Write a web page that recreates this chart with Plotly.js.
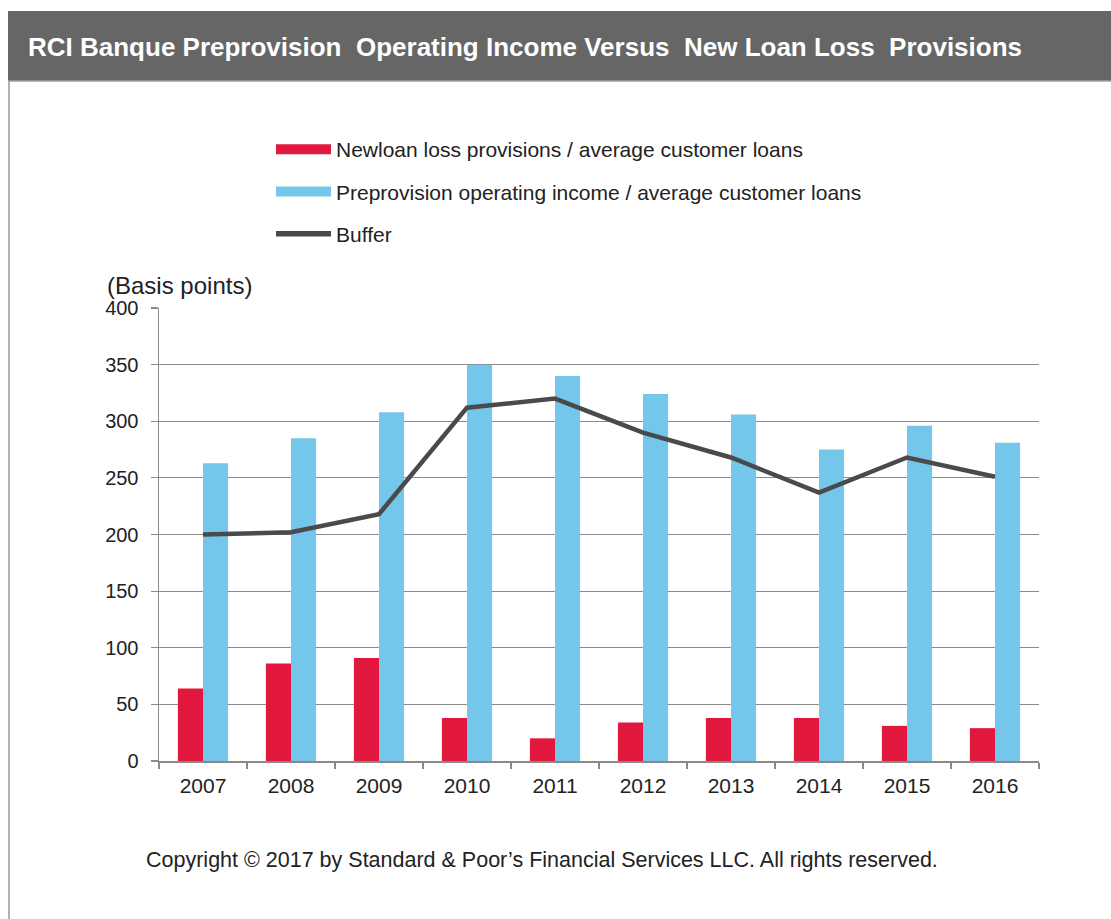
<!DOCTYPE html>
<html>
<head>
<meta charset="utf-8">
<script src="https://cdn.plot.ly/plotly-3.0.1.min.js"></script>
<style>
html,body{margin:0;padding:0;background:#fff;}
#chart{width:1111px;height:919px;}
</style>
</head>
<body>
<div id="chart"></div>
<script>
const years = ['2007','2008','2009','2010','2011','2012','2013','2014','2015','2016'];
const newLoanLoss = [64, 86, 91, 38, 20, 34, 38, 38, 31, 29];
const preprovision = [263, 285, 308, 350, 340, 324, 306, 275, 296, 281];
const buffer = [200, 202, 218, 312, 320, 290, 268, 237, 268, 251];

const seriesNames = [
  'Newloan loss provisions / average customer loans',
  'Preprovision operating income / average customer loans',
  'Buffer'
];
const RED = '#E2173D', BLUE = '#74C7EA', DARK = '#4A4A4A';

const traces = [
  {type:'bar', x:years, y:newLoanLoss, marker:{color:RED}, showlegend:false, name:seriesNames[0], hoverinfo:'y'},
  {type:'bar', x:years, y:preprovision, marker:{color:BLUE}, showlegend:false, name:seriesNames[1], hoverinfo:'y'},
  {type:'scatter', mode:'lines', x:years, y:buffer, line:{color:DARK, width:4.5}, showlegend:false, name:seriesNames[2]},
  // legend entries
  {type:'scatter', mode:'lines', x:[null], y:[null], line:{color:RED, width:10}, name:seriesNames[0], legendgroup:'a', showlegend:true},
  {type:'scatter', mode:'lines', x:[null], y:[null], line:{color:BLUE, width:10}, name:seriesNames[1], legendgroup:'b', showlegend:true},
  {type:'scatter', mode:'lines', x:[null], y:[null], line:{color:DARK, width:5.5}, name:seriesNames[2], legendgroup:'c', showlegend:true}
];

const L = 159, R = 1039, T = 308, B = 761;
const W = R - L, H = B - T;
const px = v => (v - L) / W;
const py = v => (B - v) / H;

const layout = {
  width:1111, height:919,
  margin:{l:L, r:1111-R, t:T, b:919-B, pad:0},
  paper_bgcolor:'#ffffff', plot_bgcolor:'#ffffff',
  font:{family:'Liberation Sans, Arial, sans-serif', color:'#222', size:19},
  title:{
    text:'RCI Banque Preprovision  Operating Income Versus  New Loan Loss  Provisions',
    font:{family:'Liberation Sans, Arial, sans-serif', size:26, color:'#ffffff', weight:'bold'},
    x:28/1111, xanchor:'left', xref:'container',
    y:1-47/919, yanchor:'middle', yref:'container'
  },
  barmode:'group', bargap:0.43, bargroupgap:0,
  xaxis:{
    type:'category', showgrid:false, showline:true, linecolor:'#8a8a8a', linewidth:1.5,
    ticks:'outside', tickson:'boundaries', ticklen:6, tickcolor:'#8a8a8a', tickwidth:1.5,
    ticklabelstandoff:5,
    tickfont:{size:21, color:'#222'}, fixedrange:true
  },
  yaxis:{
    range:[0,400], dtick:50, tick0:0, showgrid:true, gridcolor:'#8a8a8a', gridwidth:1.2,
    showline:true, linecolor:'#8a8a8a', linewidth:1.5, zeroline:false,
    ticks:'outside', ticklen:7, tickcolor:'#8a8a8a', tickwidth:1.2,
    ticklabelstandoff:8,
    tickfont:{size:20, color:'#222'}, fixedrange:true
  },
  legend:{
    x:px(271), y:py(129), xanchor:'left', yanchor:'top',
    font:{size:21, color:'#222'}, traceorder:'grouped', tracegroupgap:12,
    bgcolor:'rgba(0,0,0,0)', itemwidth:55
  },
  shapes:[
    {type:'rect', xref:'paper', yref:'paper', x0:px(8), x1:px(1111), y0:py(81), y1:py(11), fillcolor:'#666666', line:{width:0}, layer:'below'},
    {type:'line', xref:'paper', yref:'paper', x0:px(8), x1:px(1111), y0:py(81), y1:py(81), line:{color:'#a0a0a0', width:1.5}},
    {type:'line', xref:'paper', yref:'paper', x0:px(9), x1:px(9), y0:py(81), y1:py(919), line:{color:'#999999', width:1.5}}
  ],
  annotations:[
    {text:'(Basis points)', xref:'paper', yref:'paper', x:px(105), y:py(285), xanchor:'left', yanchor:'middle', showarrow:false, font:{size:24, color:'#222'}},
    {text:'Copyright © 2017 by Standard & Poor\u2019s Financial Services LLC. All rights reserved.', xref:'paper', yref:'paper', x:px(542), y:py(860), xanchor:'center', yanchor:'middle', showarrow:false, font:{size:21.5, color:'#222'}}
  ]
};

Plotly.newPlot('chart', traces, layout, {displayModeBar:false, staticPlot:true});
</script>
</body>
</html>
